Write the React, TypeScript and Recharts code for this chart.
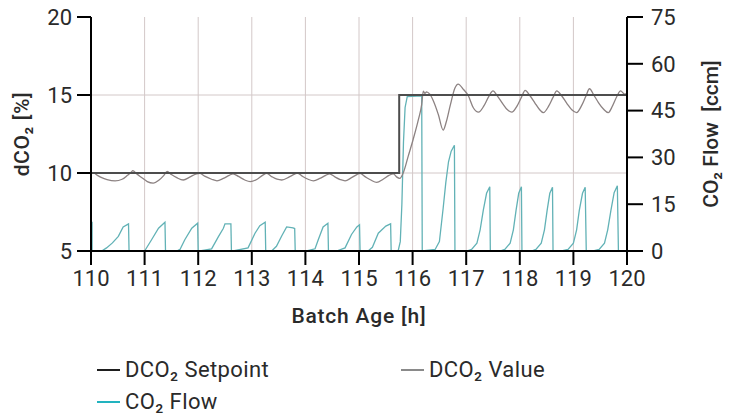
import React from 'react';
import { LineChart, Line, XAxis, YAxis, CartesianGrid, Legend } from 'recharts';

// ---- Axis ticks ----
const hourTicks = [110, 111, 112, 113, 114, 115, 116, 117, 118, 119, 120];
const dco2Ticks = [5, 10, 15, 20];
const flowTicks = [0, 15, 30, 45, 60, 75];

// ---- Series (hour, value) ----
const setpointData: [number, number][] = [
  [110, 10], [115.75, 10], [115.75, 15], [120, 15],
];

const dco2ValueData: [number, number][] = [
  [110.0, 10.0], [110.04, 10.02], [110.12, 9.85], [110.2, 9.7], [110.3, 9.58], [110.45, 9.5],
  [110.58, 9.6], [110.68, 9.85], [110.75, 10.05], [110.78, 10.15], [110.85, 9.95], [110.95, 9.7],
  [111.05, 9.45], [111.16, 9.35], [111.27, 9.55], [111.36, 9.85], [111.42, 10.1], [111.5, 9.9],
  [111.6, 9.7], [111.72, 9.55], [111.85, 9.75], [111.97, 9.95], [112.03, 9.97], [112.12, 9.8],
  [112.25, 9.6], [112.35, 9.5], [112.47, 9.65], [112.58, 9.85], [112.65, 9.95], [112.75, 9.78],
  [112.87, 9.55], [112.97, 9.45], [113.1, 9.6], [113.2, 9.85], [113.28, 9.97], [113.38, 9.75],
  [113.47, 9.6], [113.56, 9.55], [113.7, 9.75], [113.8, 9.93], [113.85, 10.0], [113.95, 9.78],
  [114.05, 9.6], [114.15, 9.5], [114.27, 9.65], [114.38, 9.85], [114.45, 9.95], [114.55, 9.75],
  [114.65, 9.58], [114.74, 9.5], [114.86, 9.7], [114.96, 9.9], [115.02, 9.97], [115.12, 9.75],
  [115.22, 9.55], [115.33, 9.4], [115.45, 9.6], [115.56, 9.85], [115.64, 9.95], [115.7, 9.75],
  [115.76, 9.65], [115.83, 10.05], [115.92, 11.1], [116.01, 12.15], [116.11, 13.45], [116.17, 14.4],
  [116.2, 15.25], [116.23, 15.1], [116.26, 15.2], [116.32, 15.05], [116.39, 14.6], [116.48, 13.75],
  [116.57, 12.75], [116.63, 13.3], [116.7, 14.3], [116.79, 15.45], [116.85, 15.7], [116.95, 15.35],
  [117.04, 14.95], [117.13, 14.2], [117.23, 13.9], [117.33, 14.3], [117.42, 14.9], [117.5, 15.26],
  [117.58, 14.95], [117.68, 14.45], [117.77, 14.05], [117.85, 13.9], [117.95, 14.3], [118.03, 14.85],
  [118.1, 15.3], [118.18, 15.0], [118.28, 14.5], [118.36, 14.1], [118.44, 13.87], [118.54, 14.3],
  [118.62, 14.85], [118.69, 15.26], [118.78, 14.95], [118.88, 14.45], [118.97, 14.05], [119.06, 13.87],
  [119.15, 14.3], [119.23, 14.9], [119.3, 15.4], [119.38, 15.0], [119.47, 14.5], [119.56, 14.1],
  [119.65, 13.87], [119.73, 14.3], [119.81, 14.9], [119.88, 15.26], [119.96, 15.05], [120.0, 15.1],
];

const co2FlowData: [number, number][] = [
  [110.0, 9.2], [110.02, 9.2], [110.02, 0],
  [110.2, 0], [110.29, 1.0], [110.4, 2.6], [110.51, 4.7], [110.6, 7.7], [110.7, 8.7], [110.71, 0],
  [111.0, 0], [111.13, 3.6], [111.26, 7.3], [111.38, 9.2], [111.39, 0],
  [111.6, 0], [111.66, 0.5], [111.75, 3.6], [111.88, 7.3], [111.99, 8.9], [112.0, 0],
  [112.03, 0], [112.25, 0.7], [112.38, 4.7], [112.47, 7.3], [112.5, 8.7], [112.61, 8.7], [112.62, 0],
  [112.65, 0], [112.93, 1.0], [113.06, 5.7], [113.15, 8.1], [113.25, 9.2], [113.26, 0],
  [113.37, 0], [113.46, 1.5], [113.56, 4.9], [113.65, 7.7], [113.77, 7.4], [113.8, 7.2], [113.81, 0],
  [114.02, 0], [114.18, 0.7], [114.24, 3.6], [114.33, 7.7], [114.42, 8.9], [114.43, 0],
  [114.58, 0], [114.74, 1.0], [114.86, 5.3], [114.96, 7.7], [115.01, 8.4], [115.02, 0],
  [115.17, 0], [115.25, 1.2], [115.36, 5.7], [115.5, 8.0], [115.59, 8.7], [115.6, 0],
  [115.73, 0], [115.77, 3], [115.8, 15], [115.83, 35], [115.86, 46], [115.9, 49.5], [116.17, 49.7], [116.18, 0],
  [116.42, 0.5], [116.5, 3], [116.57, 13.7], [116.62, 22], [116.67, 28.6], [116.72, 32], [116.78, 33.9], [116.79, 0],
  [117.01, 0], [117.1, 0.5], [117.2, 2.5], [117.26, 6.8], [117.32, 13.2], [117.38, 18.5], [117.44, 20.6], [117.45, 0],
  [117.63, 0], [117.72, 0.5], [117.82, 2.5], [117.88, 6.8], [117.93, 13], [117.98, 18.5], [118.03, 20.6], [118.04, 0],
  [118.22, 0], [118.3, 0.5], [118.4, 2.5], [118.46, 6.8], [118.51, 13], [118.56, 18.5], [118.61, 20.4], [118.62, 0],
  [118.78, 0], [118.9, 0.5], [119.0, 2.5], [119.06, 6.8], [119.11, 13], [119.17, 18.5], [119.22, 20.4], [119.24, 0],
  [119.37, 0], [119.48, 0.5], [119.58, 2.5], [119.64, 6.8], [119.7, 13], [119.76, 18.7], [119.82, 20.9], [119.84, 0],
  [120.0, 0],
];

const seriesNames = ['DCO₂ Setpoint', 'DCO₂ Value', 'CO₂ Flow'];
const legendColors = ['#1e1e1e', '#8a8a8a', '#22b3bf'];

const FONT = 'Roboto, "Open Sans", sans-serif';
const TEXT = '#2a2a2a';

const toRows = (arr: [number, number][]) => arr.map(([h, v]) => ({ h, v }));

const tickStyle = { fill: TEXT, fontSize: 22, fontFamily: FONT };

const LegendContent = () => {
  const pos = [
    { left: 97, top: 0 },
    { left: 401, top: 0 },
    { left: 97, top: 32 },
  ];
  return (
    <div style={{ position: 'relative', width: 735, height: 60, fontFamily: FONT }}>
      {seriesNames.map((n, i) => (
        <div
          key={n}
          style={{
            position: 'absolute',
            left: pos[i].left,
            top: pos[i].top,
            display: 'flex',
            alignItems: 'center',
            height: 28,
            fontSize: 22,
            letterSpacing: 0.4,
            lineHeight: '28px',
            color: TEXT,
            whiteSpace: 'nowrap',
          }}
        >
          <span style={{ display: 'inline-block', width: 23, height: 2.5, background: legendColors[i], marginRight: 5 }} />
          <span>{n}</span>
        </div>
      ))}
    </div>
  );
};

const titleProps = { fontFamily: FONT, fontSize: 21, fontWeight: 500, fill: TEXT } as const;

export default function App() {
  return (
    <div style={{ position: 'absolute', left: 0, top: 0, width: 735, height: 415, background: '#fff' }}>
      <LineChart width={735} height={415} margin={{ top: 17, right: 0, bottom: 104, left: 0 }}>
        <CartesianGrid
          yAxisId="left"
          stroke="#d3c8c8"
          strokeWidth={1}
          horizontalValues={[10, 15]}
          verticalValues={hourTicks}
        />
        <XAxis
          dataKey="h"
          type="number"
          domain={[110, 120]}
          ticks={hourTicks}
          interval={0}
          allowDataOverflow
          height={60}
          stroke="#000"
          strokeWidth={2}
          tickSize={14}
          tickMargin={5}
          tick={tickStyle}
          tickLine={{ stroke: '#000', strokeWidth: 2 }}
          label={{
            content: (p: any) => {
              const vb = p.viewBox;
              return (
                <text x={vb.x + vb.width / 2} y={vb.y + 65} textAnchor="middle" dominantBaseline="central"
                  letterSpacing={0.8} {...titleProps}>
                  Batch Age [h]
                </text>
              );
            },
          }}
        />
        <YAxis
          yAxisId="left"
          orientation="left"
          type="number"
          domain={[5, 20]}
          ticks={dco2Ticks}
          interval={0}
          allowDataOverflow
          width={91}
          stroke="#000"
          strokeWidth={2}
          tickSize={14}
          tickMargin={5}
          tick={tickStyle}
          tickLine={{ stroke: '#000', strokeWidth: 2 }}
          label={{
            content: (p: any) => {
              const vb = p.viewBox;
              const cx = vb.x + 22;
              const cy = vb.y + vb.height / 2;
              return (
                <text x={cx} y={cy} transform={`rotate(-90, ${cx}, ${cy})`} textAnchor="middle" dominantBaseline="central"
                  letterSpacing={0.6} {...titleProps}>
                  dCO₂ [%]
                </text>
              );
            },
          }}
        />
        <YAxis
          yAxisId="right"
          orientation="right"
          type="number"
          domain={[0, 75]}
          ticks={flowTicks}
          interval={0}
          allowDataOverflow
          width={108}
          stroke="#000"
          strokeWidth={2}
          tickSize={16}
          tickMargin={8}
          tick={tickStyle}
          tickLine={{ stroke: '#000', strokeWidth: 2 }}
          label={{
            content: (p: any) => {
              const vb = p.viewBox;
              const cx = vb.x + 84;
              const cy = vb.y + vb.height / 2;
              return (
                <text x={cx} y={cy} transform={`rotate(-90, ${cx}, ${cy})`} textAnchor="middle" dominantBaseline="central"
                  {...titleProps}>
                  CO₂ Flow&#160;&#160;[ccm]
                </text>
              );
            },
          }}
        />
        <Line
          yAxisId="right"
          data={toRows(co2FlowData)}
          dataKey="v"
          name={seriesNames[2]}
          type="linear"
          stroke="#62b2b6"
          strokeWidth={1.3}
          dot={false}
          activeDot={false}
          isAnimationActive={false}
        />
        <Line
          yAxisId="left"
          data={toRows(dco2ValueData)}
          dataKey="v"
          name={seriesNames[1]}
          type="monotone"
          stroke="#8c8282"
          strokeWidth={1.3}
          dot={false}
          activeDot={false}
          isAnimationActive={false}
        />
        <Line
          yAxisId="left"
          data={toRows(setpointData)}
          dataKey="v"
          name={seriesNames[0]}
          type="linear"
          stroke="#4d4d4d"
          strokeWidth={2}
          dot={false}
          activeDot={false}
          isAnimationActive={false}
        />
        <Legend
          layout="horizontal"
          verticalAlign="middle"
          align="center"
          wrapperStyle={{ top: 356, left: 0, width: 735 }}
          content={() => <LegendContent />}
        />
      </LineChart>
    </div>
  );
}
